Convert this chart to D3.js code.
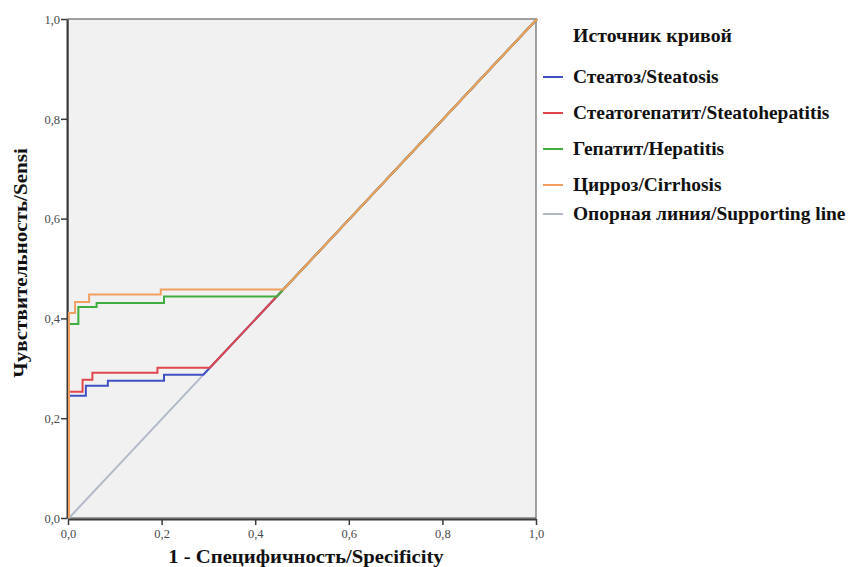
<!DOCTYPE html>
<html lang="ru">
  <head>
    <meta charset="utf-8">
    <title>ROC</title>
    <script src="https://d3js.org/d3.v7.js"></script>
    <style>
      body { margin: 0; background: white; }
    </style>
  </head>
  <body>
  <script>

  // data
  var names = ["Стеатоз/Steatosis", "Стеатогепатит/Steatohepatitis", "Гепатит/Hepatitis", "Цирроз/Cirrhosis"];
  var colors = ["#3f4fc4", "#e0464a", "#3fae3f", "#f0a060"];
  var refName = "Опорная линия/Supporting line";
  var refColor = "#b2bac8";

  var steatosisFpr = [0, 0, 0.036, 0.036, 0.083, 0.083, 0.203, 0.203, 0.287, 1];
  var steatosisTpr = [0, 0.245, 0.245, 0.265, 0.265, 0.275, 0.275, 0.287, 0.287, 1];
  var hepatFprS = [0, 0, 0.029, 0.029, 0.05, 0.05, 0.189, 0.189, 0.301, 1];
  var hepatTprS = [0, 0.253, 0.253, 0.277, 0.277, 0.291, 0.291, 0.301, 0.301, 1];
  var hepatitisFpr = [0, 0, 0.02, 0.02, 0.059, 0.059, 0.203, 0.203, 0.444, 1];
  var hepatitisTpr = [0, 0.389, 0.389, 0.423, 0.423, 0.431, 0.431, 0.444, 0.444, 1];
  var cirrhosisFpr = [0, 0, 0.013, 0.013, 0.043, 0.043, 0.196, 0.196, 0.458, 1];
  var cirrhosisTpr = [0, 0.411, 0.411, 0.433, 0.433, 0.448, 0.448, 0.458, 0.458, 1];
  var refFpr = [0, 1];
  var refTpr = [0, 1];

  var tickVals = [0, 0.2, 0.4, 0.6, 0.8, 1];

  var w = 852, h = 567;
  var margin = {top: 19, left: 68, right: 316, bottom: 49};
  var innerWidth = w - margin.left - margin.right;
  var innerHeight = h - margin.top - margin.bottom;
  var serif = "'Liberation Serif', 'Times New Roman', 'DejaVu Serif', serif";

  var svg = d3.select("body").append("svg")
      .attr("width", w)
      .attr("height", h)
      .attr("font-family", serif);

  var xScale = d3.scaleLinear().domain([0, 1]).range([margin.left, margin.left + innerWidth]);
  var yScale = d3.scaleLinear().domain([0, 1]).range([margin.top + innerHeight, margin.top]);

  var fmt = function(d) { return d3.format(".1f")(d).replace(".", ","); };

  // plot background
  svg.append("rect")
     .attr("x", xScale(0)).attr("y", yScale(1))
     .attr("width", xScale(1) - xScale(0))
     .attr("height", yScale(0) - yScale(1))
     .attr("fill", "#f1f1f1")
     .attr("stroke", "#666")
     .attr("stroke-width", 1.2);

  // axes
  var xAxis = d3.axisBottom(xScale).tickValues(tickVals).tickFormat(fmt).tickSize(6).tickSizeOuter(0);
  var yAxis = d3.axisLeft(yScale).tickValues(tickVals).tickFormat(fmt).tickSize(6).tickSizeOuter(0);

  var gx = svg.append("g")
      .attr("transform", `translate(0, ${yScale(0) + 1})`)
      .call(xAxis);
  var gy = svg.append("g")
      .attr("transform", `translate(${xScale(0) - 1}, 0)`)
      .call(yAxis);

  [gx, gy].forEach(function(g) {
    g.attr("font-family", serif).attr("font-size", 12.5);
    g.select(".domain").attr("stroke", "#3a3a3a").attr("stroke-width", 2);
    g.selectAll(".tick line").attr("stroke", "#3a3a3a").attr("stroke-width", 1.5);
    g.selectAll(".tick text").attr("fill", "#4a4a4a");
  });
  gy.selectAll(".tick text").attr("x", -7).attr("dy", "0.35em");
  gx.selectAll(".tick text").attr("y", 10);

  // curves
  var series = [
    {fpr: refFpr, tpr: refTpr, color: refColor},
    {fpr: steatosisFpr, tpr: steatosisTpr, color: colors[0]},
    {fpr: hepatFprS, tpr: hepatTprS, color: colors[1]},
    {fpr: hepatitisFpr, tpr: hepatitisTpr, color: colors[2]},
    {fpr: cirrhosisFpr, tpr: cirrhosisTpr, color: colors[3]}
  ];

  var line = d3.line()
      .x(d => xScale(d[0]) + 1)
      .y(d => yScale(d[1]));

  svg.selectAll(".curve")
     .data(series)
     .join("path")
     .attr("class", "curve")
     .attr("fill", "none")
     .attr("stroke", d => d.color)
     .attr("stroke-width", 2)
     .attr("d", d => line(d.fpr.map((f, i) => [f, d.tpr[i]])));

  // axis titles (the scan has wide bold serif text, so stretch a bit)
  svg.append("text")
     .attr("text-anchor", "middle")
     .attr("font-weight", "bold")
     .attr("font-size", 18)
     .attr("fill", "#111")
     .attr("transform", "translate(306, 563) scale(1.15, 1)")
     .text("1 - Специфичность/Specificity");

  svg.append("text")
     .attr("text-anchor", "middle")
     .attr("font-weight", "bold")
     .attr("font-size", 18)
     .attr("fill", "#111")
     .attr("transform", "translate(27, 263) rotate(-90) scale(1.17, 1)")
     .text("Чувствительность/Sensi");

  // legend
  var legX = 543;
  svg.append("text")
     .attr("font-weight", "bold")
     .attr("font-size", 18)
     .attr("fill", "#111")
     .attr("transform", `translate(${legX + 30}, 42) scale(1.1, 1)`)
     .text("Источник кривой");

  var legItems = names.map((n, i) => ({name: n, color: colors[i]}));
  legItems.push({name: refName, color: refColor});
  var legY = [77, 113, 149, 185, 214];

  var leg = svg.selectAll(".legItem")
     .data(legItems)
     .join("g")
     .attr("class", "legItem")
     .attr("transform", (d, i) => `translate(${legX}, ${legY[i]})`);

  leg.append("line")
     .attr("x1", 0).attr("x2", 20)
     .attr("y1", 0).attr("y2", 0)
     .attr("stroke", d => d.color)
     .attr("stroke-width", 2);

  leg.append("text")
     .attr("font-weight", "bold")
     .attr("font-size", 18)
     .attr("fill", "#111")
     .attr("transform", "translate(30, 0) scale(1.08, 1)")
     .attr("dy", "0.35em")
     .text(d => d.name);

  </script>
  </body>
</html>
